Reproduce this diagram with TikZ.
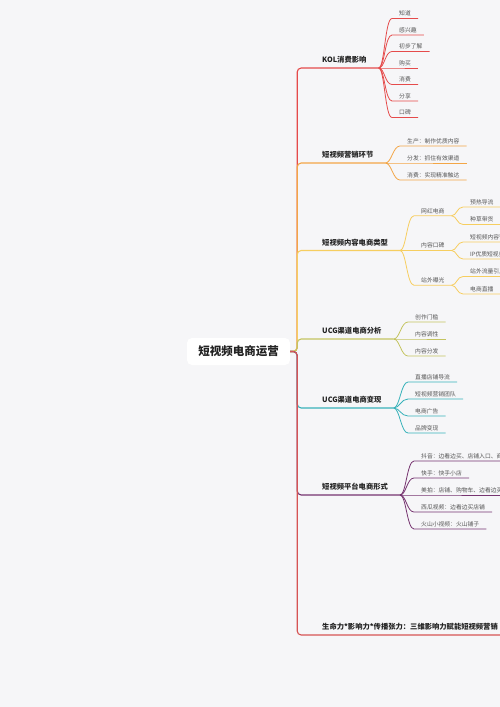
\documentclass[tikz,border=0pt]{standalone}
\usepackage{fontspec}
\setmainfont{Noto Sans CJK SC}
\usepackage{xcolor}
\usepackage{tikz}
\definecolor{kolred}{RGB}{229, 75, 75}
\definecolor{yxorange}{RGB}{243, 166, 70}
\definecolor{nryellow}{RGB}{246, 206, 96}
\definecolor{fxolive}{RGB}{196, 196, 96}
\definecolor{bxteal}{RGB}{56, 178, 186}
\definecolor{ptpurple}{RGB}{118, 52, 112}
\definecolor{smred}{RGB}{214, 84, 84}
\definecolor{bggray}{RGB}{246, 246, 248}
\definecolor{labelgray}{RGB}{34, 34, 34}
\definecolor{leafgray}{RGB}{85, 85, 85}

\begin{document}
\begin{tikzpicture}[
  x=1pt, y=-1pt,
  rootbox/.style = {rectangle, rounded corners=5pt, fill=white, minimum width=103pt,
                    minimum height=27pt, font=\fontsize{11.5}{13}\selectfont\bfseries,
                    text=labelgray},
  sec/.style     = {anchor=south west, inner xsep=12pt, inner ysep=3.5pt, text height=6.4pt,
                    text depth=1.5pt, font=\fontsize{7.3}{8}\selectfont\bfseries, text=labelgray},
  leaf/.style    = {anchor=south west, inner xsep=7pt, inner ysep=1.5pt, text height=5.1pt,
                    text depth=1pt, font=\fontsize{5.8}{7}\selectfont, text=leafgray},
  trunk/.style   = {line width=1.1pt, rounded corners=4pt},
  twig/.style    = {line width=0.8pt}
]
  \useasboundingbox (0,0) rectangle (500,707);
  \fill[bggray] (0,0) rectangle (500,707);
  \clip (0,0) rectangle (500,707);

  % ---- Root ----
  \node[rootbox] (root) at (238.5,351.5) {短视频电商运营};

  % ---- Main branches ----
  \node[sec] (kol) at (310,68)    {KOL消费影响};
  \node[sec] (yx)  at (310,163)   {短视频营销环节};
  \node[sec] (nr)  at (310,250.5) {短视频内容电商类型};
  \node[sec] (fx)  at (310,339)   {UCG渠道电商分析};
  \node[sec] (bx)  at (310,408)   {UCG渠道电商变现};
  \node[sec] (pt)  at (310,495)   {短视频平台电商形式};
  \node[sec] (sm)  at (310,635)   {生命力*影响力*传播张力：三维影响力赋能短视频营销};

  % ---- KOL leaves ----
  \node[leaf] at (392,18.5)  (kol1) {知道};
  \node[leaf] at (392,35)    (kol2) {感兴趣};
  \node[leaf] at (392,51.5)  (kol3) {初步了解};
  \node[leaf] at (392,68)    (kol4) {购买};
  \node[leaf] at (392,84.5)  (kol5) {消费};
  \node[leaf] at (392,101)   (kol6) {分享};
  \node[leaf] at (392,117.5) (kol7) {口碑};

  % ---- Marketing leaves ----
  \node[leaf] at (400,146) (yx1) {生产：制作优质内容};
  \node[leaf] at (400,163) (yx2) {分发：抓住有效渠道};
  \node[leaf] at (400,180) (yx3) {消费：实现精准触达};

  % ---- Content e-commerce: middle and leaves ----
  \node[leaf] at (414,215.75) (nr1) {网红电商};
  \node[leaf] at (414,250.5)  (nr2) {内容口碑};
  \node[leaf] at (414,285.25) (nr3) {站外曝光};
  \node[leaf] at (463,207)   (nr11) {预热导流};
  \node[leaf] at (463,224.5) (nr12) {种草带货};
  \node[leaf] at (463,242)   (nr21) {短视频内容营销};
  \node[leaf] at (463,259)   (nr22) {IP优质短视频};
  \node[leaf] at (463,276.5) (nr31) {站外流量引入};
  \node[leaf] at (463,294)   (nr32) {电商直播};

  % ---- UCG analysis leaves ----
  \node[leaf] at (408,322) (fx1) {创作门槛};
  \node[leaf] at (408,339) (fx2) {内容调性};
  \node[leaf] at (408,356) (fx3) {内容分发};

  % ---- UCG monetisation leaves ----
  \node[leaf] at (408,382) (bx1) {直播店铺导流};
  \node[leaf] at (408,399) (bx2) {短视频营销团队};
  \node[leaf] at (408,416) (bx3) {电商广告};
  \node[leaf] at (408,433) (bx4) {品牌变现};

  % ---- Platform leaves ----
  \node[leaf] at (414,461) (pt1) {抖音：边看边买、店铺入口、商品橱窗};
  \node[leaf] at (414,478) (pt2) {快手：快手小店};
  \node[leaf] at (414,495) (pt3) {美拍：店铺、购物车、边看边买};
  \node[leaf] at (414,512) (pt4) {西瓜视频：边看边买店铺};
  \node[leaf] at (414,529) (pt5) {火山小视频：火山铺子};

  % ---- Trunk (outer branches first, inner ones over them) ----
  \draw[trunk, kolred]   (root.east) -- ++(7,0) |- (kol.south west) -- (kol.south east);
  \draw[trunk, yxorange] (root.east) -- ++(7,0) |- (yx.south west)  -- (yx.south east);
  \draw[trunk, nryellow] (root.east) -- ++(7,0) |- (nr.south west)  -- (nr.south east);
  \draw[trunk, fxolive]  (root.east) -- ++(7,0) |- (fx.south west)  -- (fx.south east);
  \draw[trunk, bxteal]   (root.east) -- ++(7,0) |- (bx.south west)  -- (bx.south east);
  \draw[trunk, ptpurple] (root.east) -- ++(7,0) |- (pt.south west)  -- (pt.south east);
  \draw[trunk, smred]    (root.east) -- ++(7,0) |- (sm.south west)  -- (sm.south east);

  % ---- KOL twigs ----
  \draw[twig, kolred] (kol.south east) .. controls +(6,0) and +(-7,0) .. (kol1.south west) -- (kol1.south east);
  \draw[twig, kolred] (kol.south east) .. controls +(6,0) and +(-7,0) .. (kol2.south west) -- (kol2.south east);
  \draw[twig, kolred] (kol.south east) .. controls +(6,0) and +(-7,0) .. (kol3.south west) -- (kol3.south east);
  \draw[twig, kolred] (kol.south east) .. controls +(6,0) and +(-7,0) .. (kol4.south west) -- (kol4.south east);
  \draw[twig, kolred] (kol.south east) .. controls +(6,0) and +(-7,0) .. (kol5.south west) -- (kol5.south east);
  \draw[twig, kolred] (kol.south east) .. controls +(6,0) and +(-7,0) .. (kol6.south west) -- (kol6.south east);
  \draw[twig, kolred] (kol.south east) .. controls +(6,0) and +(-7,0) .. (kol7.south west) -- (kol7.south east);

  % ---- Marketing twigs ----
  \draw[twig, yxorange] (yx.south east) .. controls +(6,0) and +(-7,0) .. (yx1.south west) -- (yx1.south east);
  \draw[twig, yxorange] (yx.south east) .. controls +(6,0) and +(-7,0) .. (yx2.south west) -- (yx2.south east);
  \draw[twig, yxorange] (yx.south east) .. controls +(6,0) and +(-7,0) .. (yx3.south west) -- (yx3.south east);

  % ---- Content e-commerce twigs ----
  \draw[twig, nryellow] (nr.south east) .. controls +(6,0) and +(-7,0) .. (nr1.south west) -- (nr1.south east);
  \draw[twig, nryellow] (nr.south east) .. controls +(6,0) and +(-7,0) .. (nr2.south west) -- (nr2.south east);
  \draw[twig, nryellow] (nr.south east) .. controls +(6,0) and +(-7,0) .. (nr3.south west) -- (nr3.south east);
  \draw[twig, nryellow] (nr1.south east) .. controls +(5,0) and +(-6,0) .. (nr11.south west) -- (nr11.south east);
  \draw[twig, nryellow] (nr1.south east) .. controls +(5,0) and +(-6,0) .. (nr12.south west) -- (nr12.south east);
  \draw[twig, nryellow] (nr2.south east) .. controls +(5,0) and +(-6,0) .. (nr21.south west) -- (nr21.south east);
  \draw[twig, nryellow] (nr2.south east) .. controls +(5,0) and +(-6,0) .. (nr22.south west) -- (nr22.south east);
  \draw[twig, nryellow] (nr3.south east) .. controls +(5,0) and +(-6,0) .. (nr31.south west) -- (nr31.south east);
  \draw[twig, nryellow] (nr3.south east) .. controls +(5,0) and +(-6,0) .. (nr32.south west) -- (nr32.south east);

  % ---- UCG analysis twigs ----
  \draw[twig, fxolive] (fx.south east) .. controls +(6,0) and +(-7,0) .. (fx1.south west) -- (fx1.south east);
  \draw[twig, fxolive] (fx.south east) .. controls +(6,0) and +(-7,0) .. (fx2.south west) -- (fx2.south east);
  \draw[twig, fxolive] (fx.south east) .. controls +(6,0) and +(-7,0) .. (fx3.south west) -- (fx3.south east);

  % ---- UCG monetisation twigs ----
  \draw[twig, bxteal] (bx.south east) .. controls +(6,0) and +(-7,0) .. (bx1.south west) -- (bx1.south east);
  \draw[twig, bxteal] (bx.south east) .. controls +(6,0) and +(-7,0) .. (bx2.south west) -- (bx2.south east);
  \draw[twig, bxteal] (bx.south east) .. controls +(6,0) and +(-7,0) .. (bx3.south west) -- (bx3.south east);
  \draw[twig, bxteal] (bx.south east) .. controls +(6,0) and +(-7,0) .. (bx4.south west) -- (bx4.south east);

  % ---- Platform twigs ----
  \draw[twig, ptpurple] (pt.south east) .. controls +(6,0) and +(-7,0) .. (pt1.south west) -- (pt1.south east);
  \draw[twig, ptpurple] (pt.south east) .. controls +(6,0) and +(-7,0) .. (pt2.south west) -- (pt2.south east);
  \draw[twig, ptpurple] (pt.south east) .. controls +(6,0) and +(-7,0) .. (pt3.south west) -- (pt3.south east);
  \draw[twig, ptpurple] (pt.south east) .. controls +(6,0) and +(-7,0) .. (pt4.south west) -- (pt4.south east);
  \draw[twig, ptpurple] (pt.south east) .. controls +(6,0) and +(-7,0) .. (pt5.south west) -- (pt5.south east);
\end{tikzpicture}
\end{document}
